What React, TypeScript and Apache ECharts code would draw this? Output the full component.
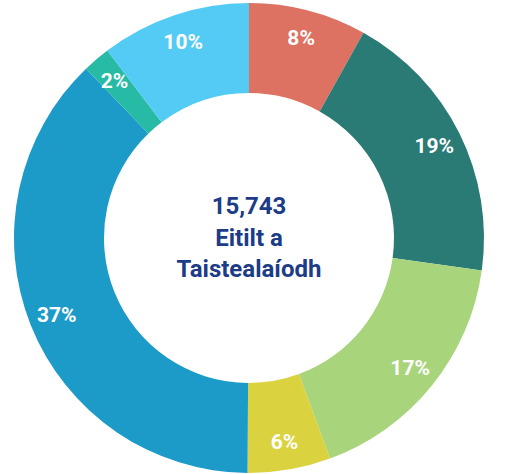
import React, { useEffect, useRef } from "react";
import * as echarts from "echarts";

const pctLabels = ["8%", "19%", "17%", "6%", "37%", "2%", "10%"];
const values = [8.1, 19.1, 17.2, 5.7, 37.7, 1.9, 10.3];
const colors = ["#DE7262", "#2A7A75", "#A8D47B", "#DBD23F", "#1D9BC8", "#27BBA5", "#53CBF5"];
const centerLines = ["15,743", "Eitilt a", "Taistealaíodh"];

export default function App() {
  const ref = useRef<HTMLDivElement>(null);
  useEffect(() => {
    document.body.style.margin = "0";
    const chart = echarts.init(ref.current!, null, { renderer: "svg" });
    const data = values.map((v, i) => ({ value: v, name: pctLabels[i], itemStyle: { color: colors[i] } }));
    const cx = 249;
    const cy = 238;
    chart.setOption({
      animation: false,
      series: [
        {
          type: "pie",
          center: [cx, cy],
          radius: [145, 235],
          startAngle: 90,
          clockwise: true,
          silent: true,
          label: { show: false },
          labelLine: { show: false },
          data,
        },
        {
          type: "pie",
          center: [cx, cy],
          radius: [173, 235],
          startAngle: 90,
          clockwise: true,
          silent: true,
          itemStyle: { color: "transparent" },
          label: {
            show: true,
            position: "inside",
            formatter: (p: any) => pctLabels[p.dataIndex],
            color: "#ffffff",
            fontFamily: "Roboto, sans-serif",
            fontWeight: "bold",
            fontSize: 21,
          },
          labelLine: { show: false },
          data: values.map((v, i) => ({ value: v, name: pctLabels[i], itemStyle: { color: "transparent" } })),
        },
      ],
      graphic: centerLines.map((t, i) => ({
        type: "text",
        x: cx,
        y: 206 + i * 31.5,
        style: {
          text: t,
          fill: "#1C3C88",
          font: "bold 24px Roboto, sans-serif",
          textAlign: "center",
          textVerticalAlign: "middle",
        },
      })),
    });
    return () => chart.dispose();
  }, []);
  return <div ref={ref} style={{ width: 506, height: 474 }} />;
}
